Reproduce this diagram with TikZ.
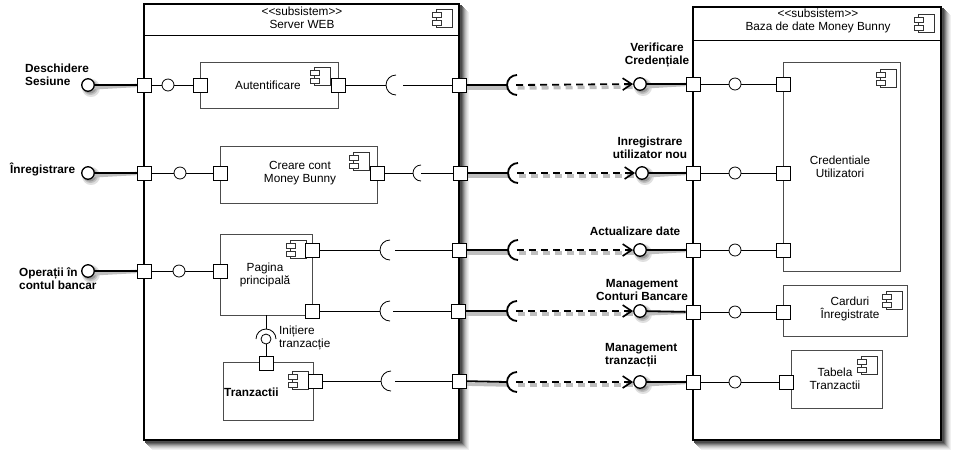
\documentclass[tikz,border=0pt]{standalone}
\usepackage{fontspec}
\setmainfont{Liberation Sans}
\usetikzlibrary{arrows.meta}
\pgfdeclarelayer{shadowlayer}
\pgfdeclarelayer{bg}
\pgfdeclarelayer{fg}
\pgfsetlayers{shadowlayer,bg,main,fg}
\begin{document}
\begin{tikzpicture}[x=1pt,y=-1pt,
  every node/.style={font=\fontsize{11.8}{13}\selectfont},
  bigbox/.style={draw,line width=1.8pt,fill=white,inner sep=0},
  comp/.style={draw=black!70,line width=0.8pt,fill=white,inner sep=0},
  port/.style={draw,fill=white,line width=0.8pt,minimum size=14pt,inner sep=0},
  ball/.style={circle,draw,fill=white,line width=0.8pt,minimum size=12pt,inner sep=0},
  smallball/.style={circle,draw,fill=white,line width=0.8pt,minimum size=10pt,inner sep=0},
  extball/.style={circle,draw,fill=white,line width=1.3pt,minimum size=12.5pt,inner sep=0},
  wire/.style={line width=0.8pt},
  thickwire/.style={line width=1.8pt},
  dashwire/.style={line width=1.8pt,dash pattern=on 7pt off 5pt,
    -{Straight Barb[length=9pt,width=12pt,line width=1.6pt]}},
  lineshadow/.style={line width=3.5pt,draw=black!25},
  dashshadow/.style={line width=3.5pt,draw=black!25,dash pattern=on 7pt off 5pt},
  lbl/.style={font=\fontsize{11.8}{13}\selectfont\bfseries,align=center,inner sep=0},
  txt/.style={align=center,inner sep=0},
  compicon/.pic={
    \draw[line width=0.7pt,draw=black!80,fill=white] (-8,-9) rectangle (8,9);
    \draw[line width=0.7pt,draw=black!80,fill=white] (-12,-6) rectangle (-3,-1);
    \draw[line width=0.7pt,draw=black!80,fill=white] (-12,2) rectangle (-3,7);
  },
  socketR/.pic={\draw[line width=0.8pt] (10,10) arc[start angle=90,end angle=270,radius=10];},
  socketRs/.pic={\draw[line width=0.8pt] (8,8) arc[start angle=90,end angle=270,radius=8];},
  socketO/.pic={\draw[line width=1.8pt] (10,10) arc[start angle=90,end angle=270,radius=10];},
  socketU/.pic={\draw[line width=0.8pt] (-10,0) arc[start angle=180,end angle=360,radius=10];}
]
\useasboundingbox (0,0) rectangle (965,451);

% ================= boxes (background layer) =================
\begin{pgfonlayer}{bg}
\node[bigbox,minimum width=315pt,minimum height=436pt] (srv) at (301.5,222) {};
\node[bigbox,minimum width=248pt,minimum height=433pt] (db) at (817,223.5) {};
\coordinate (srvh1) at (144,35); \coordinate (srvh2) at (459,35);
\coordinate (dbh1) at (693,40); \coordinate (dbh2) at (941,40);
\draw[line width=1pt] (srvh1) -- (srvh2);
\draw[line width=1pt] (dbh1) -- (dbh2);
\pic at (444,18) {compicon};
\pic at (926,23) {compicon};

\node[comp,minimum width=138pt,minimum height=46pt] (aut) at (269,85) {};
\pic at (322,76) {compicon};
\node[comp,minimum width=157pt,minimum height=57pt] (cre) at (298.5,174.5) {};
\pic at (361,161) {compicon};
\node[comp,minimum width=92pt,minimum height=81pt] (pag) at (266,274.5) {};
\pic at (298,249) {compicon};
\node[comp,minimum width=90pt,minimum height=58pt] (tra) at (268,391) {};
\pic at (300,380) {compicon};
\node[comp,minimum width=117pt,minimum height=209pt] (cred) at (841.5,166.5) {};
\pic at (888,78) {compicon};
\node[comp,minimum width=124pt,minimum height=51pt] (card) at (845,310.5) {};
\pic at (894,300) {compicon};
\node[comp,minimum width=91pt,minimum height=58pt] (tab) at (836.5,379) {};
\pic at (869,365) {compicon};
\end{pgfonlayer}

% ================= texts =================
\node[txt] (srvt) at (302,18) {<\kern0pt<subsistem>\kern0pt>\\Server WEB};
\node[txt] (dbt) at (818,21) {<\kern0pt<subsistem>\kern0pt>\\Baza de date Money Bunny};
\node[txt] (autt) at (268,85) {Autentificare};
\node[txt] (cret) at (300,173.5) {Creare cont\\Money Bunny};
\node[txt] (pagt) at (265,275) {Pagina\\principal\u{a}};
\node[lbl,anchor=west] (trat) at (224,392) {Tranzactii};
\node[txt] (credt) at (840,167) {Credentiale\\Utilizatori};
\node[txt] (cardt) at (850,309) {Carduri\\Înregistrate};
\node[txt] (tabt) at (835,379) {Tabela\\Tranzactii};

\node[lbl,align=left,anchor=west] (l1) at (25,75) {Deschidere\\Sesiune};
\node[lbl,anchor=west] (l2) at (10,169) {Înregistrare};
\node[lbl,align=left,anchor=west] (l3) at (19,279) {Operații în\\contul bancar};
\node[lbl] (m1) at (657,55) {Verificare\\Credențiale};
\node[lbl] (m2) at (650,148) {Inregistrare\\utilizator nou};
\node[lbl] (m3) at (635,231) {Actualizare date};
\node[lbl] (m4) at (642,290) {Management\\Conturi Bancare};
\node[lbl,align=left,anchor=west] (m5) at (605,355) {Management\\tranzacții};
\node[txt,align=left,anchor=west] (ini) at (279,338) {Inițiere\\tranzacție};

% ================= ports, balls (foreground layer) =================
\begin{pgfonlayer}{fg}
% row 1
\node[extball] (e1) at (88,85) {};
\node[port] (sl1) at (144,85) {};
\node[ball] (b1) at (168,85) {};
\node[port] (al) at (200,85) {};
\node[port] (ar) at (338,85) {};
\node[port] (sr1) at (459,85) {};
\node[extball] (r1) at (640,84) {};
\node[port] (dl1) at (693,84) {};
\node[ball] (d1) at (735,84) {};
\node[port] (cl1) at (783,84) {};
% row 2
\node[extball] (e2) at (88,173) {};
\node[port] (sl2) at (144,173) {};
\node[ball] (b2) at (180,173) {};
\node[port] (cl) at (220,173) {};
\node[port] (cr) at (377,173) {};
\node[port] (sr2) at (460,173) {};
\node[extball] (r2) at (642,173) {};
\node[port] (dl2) at (693,173) {};
\node[ball] (d2) at (735,173) {};
\node[port] (cl2) at (783,173) {};
% row 3
\node[extball] (e3) at (88,271) {};
\node[port] (sl3) at (144,271) {};
\node[ball] (b3) at (179,271) {};
\node[port] (pl) at (220,271) {};
\node[port] (pr1) at (312,250) {};
\node[port] (sr3) at (459,250) {};
\node[extball] (r3) at (640,250) {};
\node[port] (dl3) at (693,250) {};
\node[ball] (d3) at (735,250) {};
\node[port] (cl3) at (783,250) {};
% row 4
\node[port] (pr2) at (312,311) {};
\node[port] (sr4) at (458,311) {};
\node[extball] (r4) at (640,311) {};
\node[port] (dl4) at (693,312) {};
\node[ball] (d4) at (735,312) {};
\node[port] (cl4) at (783,312) {};
% row 5
\node[port] (tr) at (315,381) {};
\node[port] (sr5) at (459,381) {};
\node[extball] (r5) at (640,382) {};
\node[port] (dl5) at (693,382) {};
\node[ball] (d5) at (735,382) {};
\node[port] (cl5) at (786,382) {};
% interface Pagina -> Tranzactii
\node[smallball] (ib) at (266,339) {};
\node[port] (tt) at (266,363) {};
\end{pgfonlayer}

% ================= socket points =================
\coordinate (s1) at (386,85);  \coordinate (s1o) at (403,85);
\coordinate (o1) at (507,85);  \coordinate (o1d) at (516,85);
\coordinate (s2) at (413,173); \coordinate (s2o) at (421,173);
\coordinate (o2) at (508,173); \coordinate (o2d) at (517,173);
\coordinate (s3) at (380,250); \coordinate (s3o) at (395,250);
\coordinate (o3) at (508,250); \coordinate (o3d) at (517,250);
\coordinate (s4) at (380,311); \coordinate (s4o) at (393,311);
\coordinate (o4) at (507,311); \coordinate (o4d) at (516,311);
\coordinate (s5) at (381,381); \coordinate (s5o) at (395,381);
\coordinate (o5) at (507,382); \coordinate (o5d) at (516,382);
\coordinate (pbot) at (266,315);
\coordinate (sktop) at (266,329);

\pic at (s1) {socketR};  \pic at (o1) {socketO};
\pic at (s2) {socketRs}; \pic at (o2) {socketO};
\pic at (s3) {socketR};  \pic at (o3) {socketO};
\pic at (s4) {socketR};  \pic at (o4) {socketO};
\pic at (s5) {socketR};  \pic at (o5) {socketO};
\pic at (ib.center) {socketU};

% ================= connectors =================
% row 1
\draw[thickwire] (e1) -- (sl1);
\draw[wire] (sl1) -- (b1) -- (al);
\draw[wire] (ar) -- (s1);
\draw[wire] (s1o) -- (sr1);
\draw[thickwire] (sr1) -- (o1);
\draw[dashwire] (o1d) -- (r1);
\draw[thickwire] (r1) -- (dl1);
\draw[wire] (dl1) -- (d1) -- (cl1);
% row 2
\draw[thickwire] (e2) -- (sl2);
\draw[wire] (sl2) -- (b2) -- (cl);
\draw[wire] (cr) -- (s2);
\draw[wire] (s2o) -- (sr2);
\draw[thickwire] (sr2) -- (o2);
\draw[dashwire] (o2d) -- (r2);
\draw[thickwire] (r2) -- (dl2);
\draw[wire] (dl2) -- (d2) -- (cl2);
% row 3
\draw[thickwire] (e3) -- (sl3);
\draw[wire] (sl3) -- (b3) -- (pl);
\draw[wire] (pr1) -- (s3);
\draw[wire] (s3o) -- (sr3);
\draw[thickwire] (sr3) -- (o3);
\draw[dashwire] (o3d) -- (r3);
\draw[thickwire] (r3) -- (dl3);
\draw[wire] (dl3) -- (d3) -- (cl3);
% row 4
\draw[wire] (pr2) -- (s4);
\draw[wire] (s4o) -- (sr4);
\draw[thickwire] (sr4) -- (o4);
\draw[dashwire] (o4d) -- (r4);
\draw[thickwire] (r4) -- (dl4);
\draw[wire] (dl4) -- (d4) -- (cl4);
% row 5
\draw[wire] (tr) -- (s5);
\draw[wire] (s5o) -- (sr5);
\draw[thickwire] (sr5) -- (o5);
\draw[dashwire] (o5d) -- (r5);
\draw[thickwire] (r5) -- (dl5);
\draw[wire] (dl5) -- (d5) -- (cl5);
% interface
\draw[wire] (pbot) -- (sktop);
\draw[wire] (ib) -- (tt);

% ================= shadows (solid greys, drawn under everything) =================
\begin{pgfonlayer}{shadowlayer}
\foreach \bx in {srv,db}{
  \foreach \dd/\gr in {9/6,8/11,7/18,6/26,5/36,4/48,3/60,2/70}{
    \fill[black!\gr] ([shift={(\dd,\dd)}]\bx.north west) rectangle ([shift={(\dd,\dd)}]\bx.south east);
  }
}
\foreach \bl in {e1,e2,e3,r1,r2,r3,r4,r5}{
  \fill[black!12] ([shift={(3,3)}]\bl.center) circle (9);
  \fill[black!25] ([shift={(2.5,2.5)}]\bl.center) circle (7.5);
  \fill[black!40] ([shift={(2,2)}]\bl.center) circle (6.5);
}
\foreach \pa/\pb in {e1/sl1,e2/sl2,e3/sl3,sr1/o1,sr2/o2,sr3/o3,sr4/o4,sr5/o5,r1/dl1,r2/dl2,r3/dl3,r4/dl4,r5/dl5}{
  \draw[lineshadow] ([shift={(1.5,3)}]\pa.center) -- ([shift={(1.5,3)}]\pb);
}
\foreach \pa/\pb in {o1d/r1,o2d/r2,o3d/r3,o4d/r4,o5d/r5}{
  \draw[dashshadow] ([shift={(1.5,3)}]\pa) -- ([shift={(-5,3)}]\pb.center);
}
\end{pgfonlayer}
\end{tikzpicture}
\end{document}
